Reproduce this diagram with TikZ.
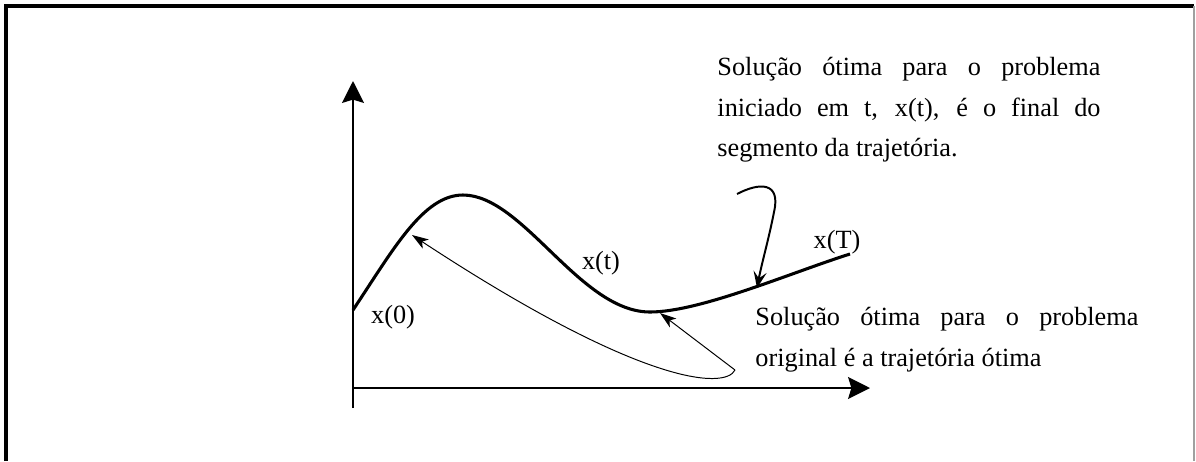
\documentclass[tikz,border=0pt]{standalone}
\usepackage{fontspec}
\setmainfont{Liberation Serif}
\usepackage{xcolor}
\usetikzlibrary{arrows.meta,positioning}
\definecolor{FrameGray}{HTML}{A0A0A0}
\tikzset{
  axisarr/.style={-{Stealth[length=10pt,width=10pt,inset=1.5pt]},line width=0.9pt},
  trajline/.style={line width=1.4pt,line join=round},
  thinarr/.style={-{Stealth[length=7.5pt,width=5pt,inset=2pt]},line width=0.45pt},
  hookarr/.style={-{Stealth[length=7.5pt,width=6pt,inset=3pt]},line width=0.9pt},
  notetext/.style={text width=174.9pt,align=justify,inner sep=0pt,
                   font=\fontsize{12pt}{18.5pt}\selectfont,anchor=north west},
  lbl/.style={font=\fontsize{12pt}{14pt}\selectfont,inner sep=0pt}
}

\begin{document}
\begin{tikzpicture}[x=0.4566pt,y=-0.4566pt]
  \useasboundingbox (0,0) rectangle (1196,461);
  % Frame
  \draw[line width=1.4pt] (6,461) -- (6,6) -- (1194,6);
  \draw[FrameGray,line width=0.6pt] (1194,6) -- (1194,461);
  % Axes
  \coordinate (o) at (353,388);
  \coordinate (ytop) at (353,81);
  \coordinate (ybot) at (353,408);
  \coordinate (xend) at (870,388);
  \draw[axisarr] (ybot) -- (ytop);
  \draw[axisarr] (o) -- (xend);
  % Trajectory
  \coordinate (xzero) at (353,310);
  \coordinate (peak) at (463,195);
  \coordinate (valley) at (650,312);
  \coordinate (xfinal) at (850,254);
  \draw[trajline] (xzero) .. controls (393,250) and (423,195) .. (peak)
    .. controls (523,195) and (580,312) .. (valley)
    .. controls (700,312) and (790,273) .. (xfinal);
  \coordinate (tipA) at (412,235);
  \coordinate (tipB) at (660,313);
  \coordinate (tipC) at (757,288);
  % Labels on the curve
  \node[lbl] (lx0) at (393,317) {x(0)};
  \node[lbl] (lxt) at (601,263) {x(t)};
  \node[lbl] (lxT) at (837,242) {x(T)};
  % Notes
  \node[notetext] (topnote) at (717,57)
    {Solução ótima para o problema\linebreak iniciado em t, x(t), é o final do\linebreak segmento da trajetória.};
  \node[notetext] (botnote) at (755,307)
    {Solução ótima para o problema\linebreak original é a trajetória ótima};
  % Arrows from the notes
  \coordinate (hookstart) at (737,194);
  \coordinate (notestart) at (735,370);
  \draw[hookarr] (hookstart) .. controls (760,182) and (781,182) .. (774,212)
    .. controls (769,238) and (762,262) .. (tipC);
  \draw[thinarr] (notestart) .. controls (725,390) and (640,385) .. (tipA);
  \draw[thinarr] (notestart) -- (tipB);
\end{tikzpicture}
\end{document}
